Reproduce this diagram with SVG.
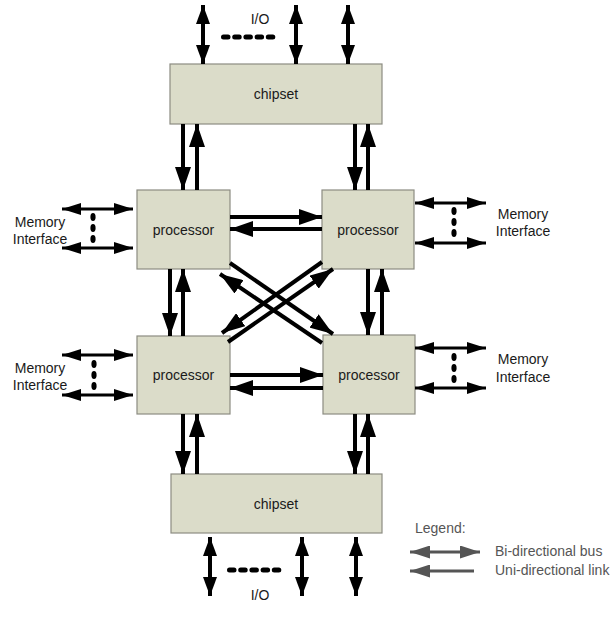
<svg xmlns="http://www.w3.org/2000/svg" width="611" height="624" viewBox="0 0 611 624">
<style>
.box{fill:#dbdcc9;stroke:#8c8c82;stroke-width:1.2}
.t{font-family:"Liberation Sans",Arial,sans-serif;font-size:14px;fill:#1a1a1a;text-anchor:middle}
.lt{font-family:"Liberation Sans",Arial,sans-serif;font-size:14px;fill:#555}
.link{stroke:#000;stroke-width:4;fill:none;marker-end:url(#big)}
.io{stroke:#000;stroke-width:4;fill:none;marker-start:url(#ioh);marker-end:url(#ioh)}
.mem{stroke:#000;stroke-width:3;fill:none;marker-start:url(#memh);marker-end:url(#memh)}
.dash{stroke:#000;stroke-width:5;stroke-linecap:round;stroke-dasharray:4.5 6.7;fill:none}
.dot{fill:#000}
</style>
<defs>
<marker id="big" markerUnits="userSpaceOnUse" markerWidth="23" markerHeight="16" refX="23" refY="8" orient="auto"><path d="M0,0 L23,8 L0,16 z" fill="#000"/></marker>
<marker id="ioh" markerUnits="userSpaceOnUse" markerWidth="19" markerHeight="14" refX="19" refY="7" orient="auto-start-reverse"><path d="M0,0 L19,7 L0,14 z" fill="#000"/></marker>
<marker id="memh" markerUnits="userSpaceOnUse" markerWidth="19" markerHeight="12" refX="19" refY="6" orient="auto-start-reverse"><path d="M0,0 L19,6 L0,12 z" fill="#000"/></marker>
<marker id="lgh" markerUnits="userSpaceOnUse" markerWidth="20" markerHeight="13" refX="20" refY="6.5" orient="auto-start-reverse"><path d="M0,0 L20,6.5 L0,13 z" fill="#555"/></marker>
</defs>

<g id="chipset-top"><rect class="box" x="170" y="64" width="212" height="60"/><text class="t" x="276" y="99">chipset</text></g>
<g id="chipset-bottom"><rect class="box" x="171" y="474" width="211" height="59"/><text class="t" x="276" y="509">chipset</text></g>
<g id="proc-tl"><rect class="box" x="137" y="190" width="93" height="79"/><text class="t" x="183.5" y="235">processor</text></g>
<g id="proc-tr"><rect class="box" x="322" y="190" width="92" height="79"/><text class="t" x="368" y="235">processor</text></g>
<g id="proc-bl"><rect class="box" x="137" y="336" width="93" height="78"/><text class="t" x="183.5" y="380">processor</text></g>
<g id="proc-br"><rect class="box" x="323" y="335" width="92" height="79"/><text class="t" x="369" y="380">processor</text></g>

<g id="connectors">
<!-- chipset top to processors -->
<line class="link" x1="183" y1="124" x2="183" y2="190"/>
<line class="link" x1="197" y1="190" x2="197" y2="124"/>
<line class="link" x1="355" y1="124" x2="355" y2="190"/>
<line class="link" x1="368" y1="190" x2="368" y2="124"/>
<!-- processor vertical -->
<line class="link" x1="170" y1="269" x2="170" y2="336"/>
<line class="link" x1="183" y1="336" x2="183" y2="269"/>
<line class="link" x1="368" y1="269" x2="368" y2="335"/>
<line class="link" x1="382" y1="335" x2="382" y2="269"/>
<!-- processors to bottom chipset -->
<line class="link" x1="183" y1="414" x2="183" y2="474"/>
<line class="link" x1="197" y1="474" x2="197" y2="414"/>
<line class="link" x1="355" y1="414" x2="355" y2="474"/>
<line class="link" x1="368" y1="474" x2="368" y2="414"/>
<!-- horizontal -->
<line class="link" x1="230" y1="217" x2="322" y2="217"/>
<line class="link" x1="322" y1="229" x2="230" y2="229"/>
<line class="link" x1="230" y1="375" x2="323" y2="375"/>
<line class="link" x1="323" y1="388" x2="230" y2="388"/>
<!-- diagonals -->
<line class="link" x1="230" y1="263" x2="333" y2="334"/>
<line class="link" x1="322" y1="343" x2="220" y2="274"/>
<line class="link" x1="228" y1="342" x2="333" y2="269"/>
<line class="link" x1="322" y1="262" x2="222" y2="333"/>
<!-- I/O top -->
<line class="io" x1="203" y1="5" x2="203" y2="64"/>
<line class="io" x1="296" y1="5" x2="296" y2="64"/>
<line class="io" x1="348" y1="5" x2="348" y2="64"/>
<line class="dash" x1="223.5" y1="37" x2="273" y2="37"/>
<!-- I/O bottom -->
<line class="io" x1="210" y1="537" x2="210" y2="596"/>
<line class="io" x1="302" y1="537" x2="302" y2="596"/>
<line class="io" x1="356" y1="537" x2="356" y2="596"/>
<line class="dash" x1="229.5" y1="570" x2="279" y2="570"/>
<!-- memory interfaces -->
<line class="mem" x1="62" y1="209" x2="133" y2="209"/>
<line class="mem" x1="62" y1="248" x2="133" y2="248"/>
<ellipse class="dot" cx="93" cy="217" rx="2.6" ry="4"/><ellipse class="dot" cx="93" cy="228" rx="2.6" ry="4"/><ellipse class="dot" cx="93" cy="239" rx="2.6" ry="4"/>
<line class="mem" x1="415" y1="203" x2="486" y2="203"/>
<line class="mem" x1="415" y1="243" x2="486" y2="243"/>
<ellipse class="dot" cx="454" cy="211" rx="2.6" ry="4"/><ellipse class="dot" cx="454" cy="222" rx="2.6" ry="4"/><ellipse class="dot" cx="454" cy="233" rx="2.6" ry="4"/>
<line class="mem" x1="62" y1="355" x2="133" y2="355"/>
<line class="mem" x1="62" y1="395" x2="133" y2="395"/>
<ellipse class="dot" cx="94" cy="364" rx="2.6" ry="4"/><ellipse class="dot" cx="94" cy="375" rx="2.6" ry="4"/><ellipse class="dot" cx="94" cy="386" rx="2.6" ry="4"/>
<line class="mem" x1="415" y1="348" x2="486" y2="348"/>
<line class="mem" x1="415" y1="388" x2="486" y2="388"/>
<ellipse class="dot" cx="454" cy="357" rx="2.6" ry="4"/><ellipse class="dot" cx="454" cy="368" rx="2.6" ry="4"/><ellipse class="dot" cx="454" cy="379" rx="2.6" ry="4"/>
</g>

<g id="labels">
<text class="t" x="260" y="24">I/O</text>
<text class="t" x="260" y="600">I/O</text>
<text class="t" x="40" y="227">Memory</text><text class="t" x="40" y="244">Interface</text>
<text class="t" x="523" y="219">Memory</text><text class="t" x="523" y="236">Interface</text>
<text class="t" x="40" y="373">Memory</text><text class="t" x="40" y="390">Interface</text>
<text class="t" x="523" y="364">Memory</text><text class="t" x="523" y="382">Interface</text>
</g>

<g id="legend">
<text class="lt" x="415" y="533">Legend:</text>
<line x1="410" y1="552" x2="480" y2="552" stroke="#555" stroke-width="3" marker-start="url(#lgh)" marker-end="url(#lgh)"/>
<line x1="474" y1="571" x2="410" y2="571" stroke="#555" stroke-width="3" marker-end="url(#lgh)"/>
<text class="lt" x="495" y="556">Bi-directional bus</text>
<text class="lt" x="495" y="575">Uni-directional link</text>
</g>
</svg>
